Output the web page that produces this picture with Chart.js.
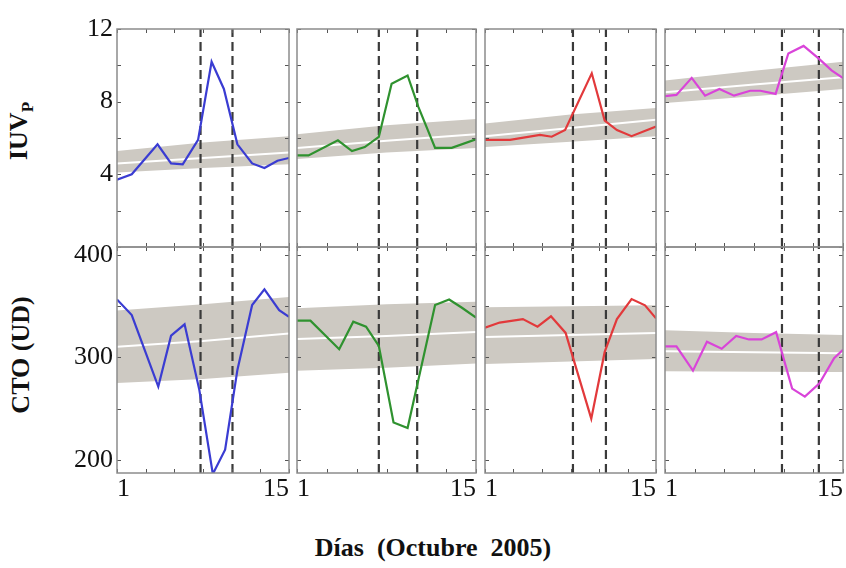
<!DOCTYPE html>
<html>
<head>
<meta charset="utf-8">
<script src="https://cdn.jsdelivr.net/npm/chart.js@4.4.1/dist/chart.umd.min.js"></script>
<style>
  body { margin: 0; background: #fff; width: 846px; height: 568px; overflow: hidden; position: relative; font-family: "Liberation Serif", "Times New Roman", serif; }
  canvas { position: absolute; }
  .ytitle { position: absolute; font-weight: bold; font-size: 26px; white-space: nowrap; color: #111;
            transform: translate(-50%, -50%) rotate(-90deg); }
  .ytitle sub { font-size: 17px; }
  #xtitle { position: absolute; left: 433px; top: 548px; transform: translate(-50%, -50%);
            font-weight: bold; font-size: 26px; white-space: pre; color: #111; }
</style>
</head>
<body>
<div class="ytitle" style="left:21px; top:131px;">IUV<sub>P</sub></div>
<div class="ytitle" style="left:21px; top:355px;">CTO (UD)</div>
<div id="xtitle">Días  (Octubre  2005)</div>

<script>
// ejes
const xTicks = [1, 3.3333, 5.6667, 8, 10.3333, 12.6667, 15];
const xLabels = [1, 15];
const iuvTicks = [0, 2, 4, 6, 8, 10, 12];
const iuvLabels = [4, 8, 12];
const ctoTicks = [200, 250, 300, 350, 400];
const ctoLabels = [200, 300, 400];
const bandDays = [1, 8, 15];

// inicio / fin del evento (lineas discontinuas)
const eventStart = [7.8, 7.4, 8.2, 10.2];
const eventEnd = [10.4, 10.4, 10.9, 13.1];

const lineColors = ['#3a3cd2', '#2f922f', '#e2393b', '#d944d9'];

// IUVp - fila superior
const iuvDays1 = [1, 2.2, 4.3, 5.4, 6.35, 7.6, 8.7, 9.7, 10.8, 12.0, 13.0, 14.06, 15];
const iuvVals1 = [3.7, 4.0, 5.65, 4.6, 4.55, 5.9, 10.2, 8.7, 5.65, 4.6, 4.35, 4.75, 4.9];
const iuvUpper1 = [5.28, 5.75, 6.1];
const iuvLower1 = [4.1, 4.35, 4.55];
const iuvMean1 = [4.6, 4.9, 5.2];

const iuvDays2 = [1, 1.9, 4.2, 5.3, 6.3, 7.4, 8.4, 9.65, 10.5, 11.8, 13.1, 15];
const iuvVals2 = [5.04, 5.04, 5.87, 5.28, 5.5, 6.06, 8.98, 9.44, 7.7, 5.46, 5.46, 5.93];
const iuvUpper2 = [6.2, 6.7, 7.05];
const iuvLower2 = [4.85, 5.2, 5.45];
const iuvMean2 = [5.45, 5.85, 6.2];

const iuvDays3 = [1, 3.05, 5.5, 6.46, 7.56, 9.74, 10.8, 11.8, 13.0, 15];
const iuvVals3 = [5.9, 5.9, 6.17, 6.07, 6.44, 9.56, 6.96, 6.44, 6.1, 6.63];
const iuvUpper3 = [6.8, 7.3, 7.65];
const iuvLower3 = [5.5, 5.8, 6.1];
const iuvMean3 = [6.1, 6.55, 7.0];

const iuvDays4 = [1, 1.9, 3.1, 4.15, 5.28, 6.43, 7.7, 8.5, 9.7, 10.7, 11.9, 13.1, 14.1, 15];
const iuvVals4 = [8.3, 8.37, 9.31, 8.33, 8.7, 8.33, 8.6, 8.6, 8.43, 10.65, 11.07, 10.37, 9.72, 9.3];
const iuvUpper4 = [9.17, 9.7, 10.2];
const iuvLower4 = [7.93, 8.3, 8.7];
const iuvMean4 = [8.52, 8.95, 9.35];

// CTO (UD) - fila inferior
const ctoDays1 = [1, 2.2, 4.36, 5.4, 6.5, 7.7, 8.8, 9.8, 10.8, 12.0, 13.0, 14.2, 15];
const ctoVals1 = [356.7, 341.5, 271.5, 321.3, 332.4, 268.3, 186, 209.8, 287.8, 351.2, 366.5, 346.3, 339.8];
const ctoUpper1 = [346, 352, 359];
const ctoLower1 = [275, 279, 285];
const ctoMean1 = [310.5, 316, 323.5];

const ctoDays2 = [1, 2.05, 4.3, 5.4, 6.4, 7.4, 8.55, 9.65, 11.8, 12.9, 13.9, 15];
const ctoVals2 = [336, 336, 308, 335, 330, 311.2, 236.4, 230.9, 351.2, 356.7, 348.6, 338.9];
const ctoUpper2 = [348, 352, 354.5];
const ctoLower2 = [287, 290, 294];
const ctoMean2 = [318, 321, 325];

const ctoDays3 = [1, 2.2, 4.1, 5.3, 6.4, 7.6, 9.7, 10.8, 11.8, 13.0, 14.1, 15];
const ctoVals3 = [329.1, 334.1, 337.5, 330.1, 340.2, 324, 240.2, 305.4, 337.5, 357.1, 351, 338.2];
const ctoUpper3 = [349, 350, 351];
const ctoLower3 = [293.5, 296, 298.5];
const ctoMean3 = [320, 322, 324];

const ctoDays4 = [1, 1.9, 3.2, 4.3, 5.46, 6.6, 7.6, 8.6, 9.74, 11.0, 12.0, 13.15, 14.3, 15];
const ctoVals4 = [310.8, 310.8, 287.1, 315.3, 308.5, 321, 317.6, 317.6, 324.7, 269.5, 261.7, 274.6, 299.3, 307.5];
const ctoUpper4 = [326.5, 324, 322];
const ctoLower4 = [286.5, 286, 285.8];
const ctoMean4 = [306, 305, 304];

// posicion de cada panel en la pagina
const colLeft = [117, 297, 485, 665];
const colWidth = [172, 179, 171, 178];
const rowTop = [29, 247];
const rowHeight = [218, 226];

const tickFont = { family: "'Liberation Serif', 'Times New Roman', serif", size: 26 };

const panels = [
  { row: 0, col: 0, days: iuvDays1, vals: iuvVals1, up: iuvUpper1, lo: iuvLower1, mid: iuvMean1 },
  { row: 0, col: 1, days: iuvDays2, vals: iuvVals2, up: iuvUpper2, lo: iuvLower2, mid: iuvMean2 },
  { row: 0, col: 2, days: iuvDays3, vals: iuvVals3, up: iuvUpper3, lo: iuvLower3, mid: iuvMean3 },
  { row: 0, col: 3, days: iuvDays4, vals: iuvVals4, up: iuvUpper4, lo: iuvLower4, mid: iuvMean4 },
  { row: 1, col: 0, days: ctoDays1, vals: ctoVals1, up: ctoUpper1, lo: ctoLower1, mid: ctoMean1 },
  { row: 1, col: 1, days: ctoDays2, vals: ctoVals2, up: ctoUpper2, lo: ctoLower2, mid: ctoMean2 },
  { row: 1, col: 2, days: ctoDays3, vals: ctoVals3, up: ctoUpper3, lo: ctoLower3, mid: ctoMean3 },
  { row: 1, col: 3, days: ctoDays4, vals: ctoVals4, up: ctoUpper4, lo: ctoLower4, mid: ctoMean4 }
];

function pts(xs, ys) {
  return xs.map((x, i) => ({ x: x, y: ys[i] }));
}

// marco gris y marcas hacia dentro, como en matlab
const framePlugin = {
  id: 'frame',
  afterDatasetsDraw(chart) {
    const { ctx, chartArea: a, scales } = chart;
    ctx.save();
    ctx.strokeStyle = '#555';
    ctx.lineWidth = 1;
    scales.x.ticks.forEach(t => {
      const px = Math.round(scales.x.getPixelForValue(t.value)) + 0.5;
      ctx.beginPath();
      ctx.moveTo(px, a.top); ctx.lineTo(px, a.top + 4);
      ctx.moveTo(px, a.bottom); ctx.lineTo(px, a.bottom - 4);
      ctx.stroke();
    });
    scales.y.ticks.forEach(t => {
      const py = Math.round(scales.y.getPixelForValue(t.value)) + 0.5;
      ctx.beginPath();
      ctx.moveTo(a.left, py); ctx.lineTo(a.left + 4, py);
      ctx.moveTo(a.right, py); ctx.lineTo(a.right - 4, py);
      ctx.stroke();
    });
    ctx.strokeStyle = '#8c8c8c';
    ctx.lineWidth = 1.5;
    ctx.strokeRect(a.left, a.top, a.right - a.left, a.bottom - a.top);
    ctx.restore();
  }
};

panels.forEach(p => {
  const isTop = p.row === 0;
  const yMin = isTop ? 0 : 187;
  const yMax = isTop ? 12 : 408;
  const yTickVals = isTop ? iuvTicks : ctoTicks;
  const yLabelVals = isTop ? iuvLabels : ctoLabels;

  const leftW = p.col === 0 ? 75 : 20;
  const padTop = 24, padRight = 20;
  const bottomH = isTop ? 24 : 40;

  const canvas = document.createElement('canvas');
  const w = colWidth[p.col] + leftW + padRight;
  const h = rowHeight[p.row] + padTop + bottomH;
  canvas.width = w;
  canvas.height = h;
  canvas.style.left = (colLeft[p.col] - leftW) + 'px';
  canvas.style.top = (rowTop[p.row] - padTop) + 'px';
  canvas.style.width = w + 'px';
  canvas.style.height = h + 'px';
  document.body.appendChild(canvas);

  const color = lineColors[p.col];
  const noPt = { pointRadius: 0, tension: 0 };

  new Chart(canvas, {
    type: 'line',
    data: {
      datasets: [
        Object.assign({ data: pts(p.days, p.vals), borderColor: color, borderWidth: 2.2, fill: false }, noPt),
        Object.assign({ data: [{ x: eventStart[p.col], y: yMin }, { x: eventStart[p.col], y: yMax }],
          borderColor: '#3a3a3a', borderWidth: 2.2, borderDash: [9, 5], fill: false }, noPt),
        Object.assign({ data: [{ x: eventEnd[p.col], y: yMin }, { x: eventEnd[p.col], y: yMax }],
          borderColor: '#3a3a3a', borderWidth: 2.2, borderDash: [9, 5], fill: false }, noPt),
        Object.assign({ data: pts(bandDays, p.mid), borderColor: '#ffffff', borderWidth: 2, fill: false }, noPt),
        Object.assign({ data: pts(bandDays, p.up), borderWidth: 0, borderColor: 'rgba(0,0,0,0)',
          backgroundColor: '#cdc9c2', fill: '+1' }, noPt),
        Object.assign({ data: pts(bandDays, p.lo), borderWidth: 0, borderColor: 'rgba(0,0,0,0)', fill: false }, noPt)
      ]
    },
    options: {
      responsive: false,
      animation: false,
      events: [],
      layout: { padding: { top: padTop, right: padRight, left: 0, bottom: 0 } },
      plugins: { legend: { display: false }, tooltip: { enabled: false } },
      scales: {
        x: {
          type: 'linear', min: 1, max: 15, bounds: 'data',
          grid: { display: false, drawTicks: false },
          border: { display: false },
          afterBuildTicks: s => { s.ticks = xTicks.map(v => ({ value: v })); },
          afterFit: s => { s.height = bottomH; },
          ticks: {
            display: !isTop, autoSkip: false, maxRotation: 0, minRotation: 0,
            align: 'inner', padding: 1, font: tickFont, color: '#111',
            callback: v => xLabels.includes(v) ? String(v) : ''
          }
        },
        y: {
          type: 'linear', min: yMin, max: yMax, bounds: 'data',
          grid: { display: false, drawTicks: false },
          border: { display: false },
          afterBuildTicks: s => { s.ticks = yTickVals.map(v => ({ value: v })); },
          afterFit: s => { s.width = leftW; },
          ticks: {
            display: p.col === 0, autoSkip: false, padding: 4, font: tickFont, color: '#111',
            callback: v => yLabelVals.includes(v) ? String(v) : ''
          }
        }
      }
    },
    plugins: [framePlugin]
  });
});
</script>
</body>
</html>
